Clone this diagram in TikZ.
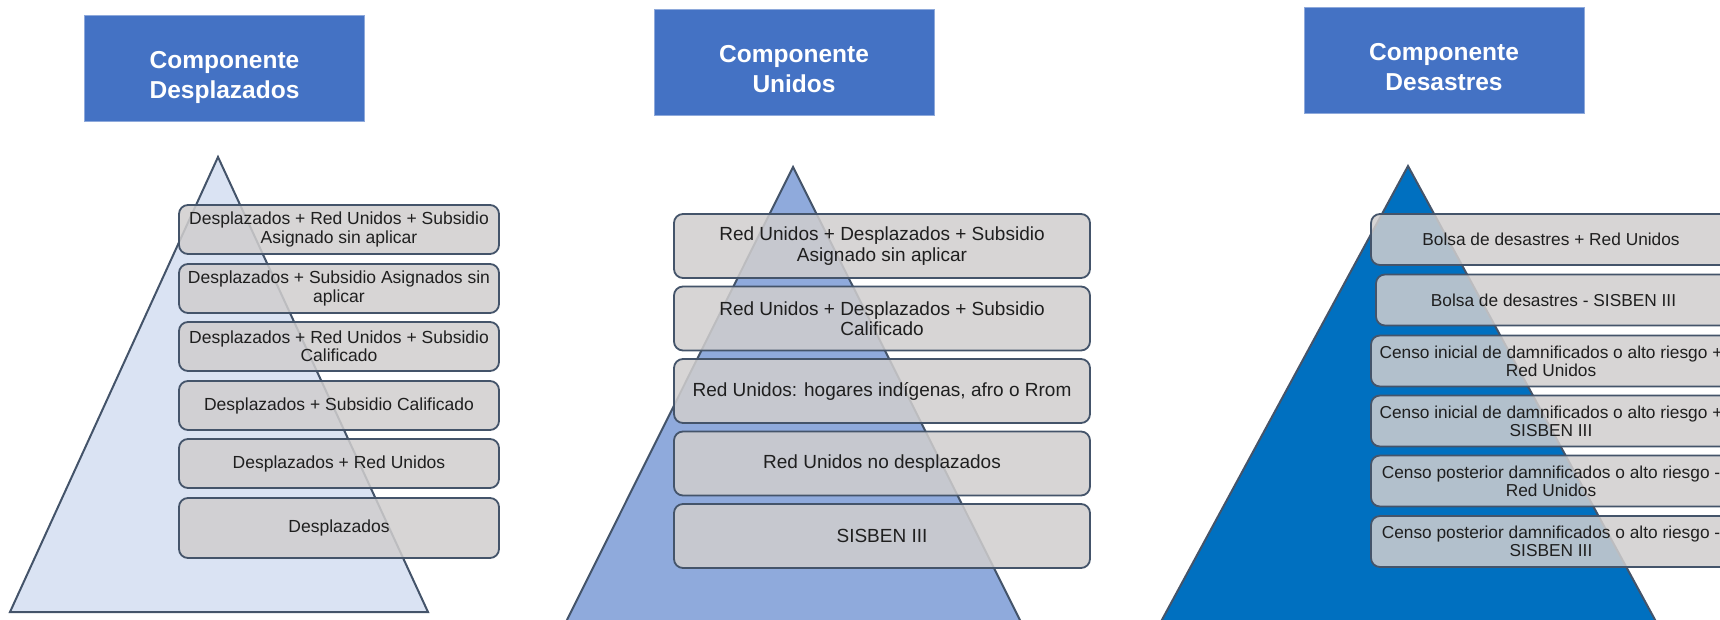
\documentclass[tikz,border=0pt]{standalone}
\usepackage{fontspec}
\setmainfont{Liberation Sans}
\usetikzlibrary{positioning}
\definecolor{cabecera}{HTML}{4472C4}
\definecolor{bordecab}{HTML}{8EA9DB}
\definecolor{borde}{HTML}{44546A}
\definecolor{gris}{HTML}{D0CECE}
\definecolor{azulA}{HTML}{DAE3F3}
\definecolor{azulB}{HTML}{8FAADC}
\definecolor{azulC}{HTML}{0070C0}
\tikzstyle{every nivel} = []
\tikzstyle{cabeza} = [draw=bordecab, line width=1pt, fill=cabecera, text=white, align=center,
  font=\fontsize{24.5pt}{30pt}\selectfont\bfseries, minimum width=280pt, minimum height=106pt,
  text height=60pt, text depth=0pt]
\tikzstyle{nivel} = [draw=borde, line width=1.8pt, rounded corners=9pt, fill=gris,
  fill opacity=0.86, text opacity=1, text=black!88, align=center, inner sep=0pt, every nivel]
\tikzstyle{piramide} = [draw=borde, line width=2pt, line join=miter]

\begin{document}
\begin{tikzpicture}[x=1pt, y=-1pt]
                    \useasboundingbox (0,0) rectangle (1720,619);
                    \clip (0,0) rectangle (1720,619);

                    % piramides
                    \draw[piramide, fill=azulA] (218,157) -- (428,612) -- (10,612) -- cycle;
                    \draw[piramide, fill=azulB] (793,167) -- (1030,640) -- (557,640) -- cycle;
                    \draw[piramide, fill=azulC] (1408,166) -- (1666,640) -- (1151,640) -- cycle;

                    \node[cabeza] (desplazados) at (224.5,68.5) {Componente\\Desplazados};
                    \node[cabeza] (unidos) at (794,62.5) {Componente\\Unidos};
                    \node[cabeza] (desastres) at (1444,60) {Componente\\Desastres};

                    \tikzstyle{every nivel} = [minimum width=320pt, minimum height=49pt, font=\fontsize{17.5pt}{18.4pt}\selectfont]
                    \node[nivel] (d1) at (339,229.5) {Desplazados + Red Unidos + Subsidio\\Asignado sin aplicar};
                    \node[nivel] (d2) at (339,288.5) {Desplazados + Subsidio Asignados sin\\aplicar};
                    \node[nivel] (d3) at (339,346.5) {Desplazados + Red Unidos + Subsidio\\Calificado};
                    \node[nivel] (d4) at (339,405.5) {Desplazados + Subsidio Calificado};
                    \node[nivel] (d5) at (339,463.5) {Desplazados + Red Unidos};
                    \node[nivel, minimum height=60pt] (d6) at (339,528) {Desplazados};

                    \tikzstyle{every nivel} = [minimum width=416pt, minimum height=64pt, font=\fontsize{19pt}{20.5pt}\selectfont]
                    \node[nivel] (u1) at (882,246) {Red Unidos + Desplazados + Subsidio\\Asignado sin aplicar};
                    \node[nivel] (u2) at (882,318.5) {Red Unidos + Desplazados + Subsidio\\Calificado};
                    \node[nivel] (u3) at (882,391) {Red Unidos: hogares indígenas, afro o Rrom};
                    \node[nivel] (u4) at (882,463.5) {Red Unidos no desplazados};
                    \node[nivel] (u5) at (882,536) {SISBEN III};

                    \tikzstyle{every nivel} = [minimum width=360pt, minimum height=51pt, font=\fontsize{17.3pt}{18pt}\selectfont]
                    \node[nivel] (b1) at (1551,239.5) {Bolsa de desastres + Red Unidos};
                    \node[nivel, minimum width=355pt] (b2) at (1553.5,300) {Bolsa de desastres - SISBEN III};
                    \node[nivel] (b3) at (1551,361) {Censo inicial de damnificados o alto riesgo +\\Red Unidos};
                    \node[nivel] (b4) at (1551,421) {Censo inicial de damnificados o alto riesgo +\\SISBEN III};
                    \node[nivel] (b5) at (1551,481) {Censo posterior damnificados o alto riesgo -\\Red Unidos};
                    \node[nivel] (b6) at (1551,541.5) {Censo posterior damnificados o alto riesgo -\\SISBEN III};
                \end{tikzpicture}
\end{document}
